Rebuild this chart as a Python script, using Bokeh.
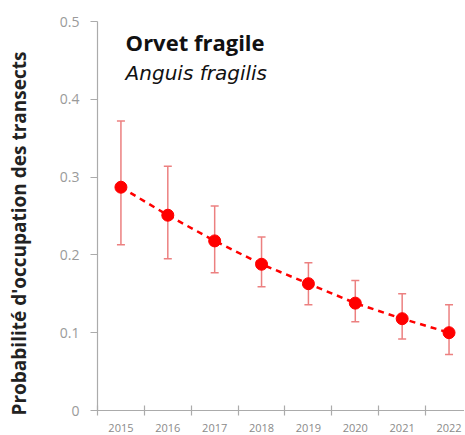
from bokeh.plotting import figure
from bokeh.models import ColumnDataSource, Whisker, TeeHead, FixedTicker, Label, Range1d, Title
from bokeh.embed import file_html
from bokeh.resources import INLINE

years = [2015, 2016, 2017, 2018, 2019, 2020, 2021, 2022]
occupancy = [0.287, 0.251, 0.218, 0.188, 0.163, 0.138, 0.118, 0.100]
upper = [0.372, 0.314, 0.263, 0.223, 0.190, 0.167, 0.150, 0.136]
lower = [0.213, 0.195, 0.177, 0.159, 0.136, 0.114, 0.092, 0.072]
y_ticks = [0, 0.1, 0.2, 0.3, 0.4, 0.5]
bounds = [y - 0.5 for y in years]

title_text = "Orvet fragile"
subtitle_text = "Anguis fragilis"
ylabel_text = "Probabilité d'occupation des transects"

src = ColumnDataSource(dict(x=years, y=occupancy, up=upper, lo=lower))

p = figure(width=464, height=434, output_backend="svg", toolbar_location=None,
           x_range=Range1d(2014.5, 2022.33), y_range=Range1d(0, 0.5),
           min_border_left=96, min_border_right=0, min_border_top=21, min_border_bottom=22)
p.outline_line_color = None
p.xgrid.grid_line_color = None
p.ygrid.grid_line_color = None
p.background_fill_color = "white"
p.border_fill_color = "white"

axis_col = "#ababab"
# x axis
xa = p.xaxis[0]
xa.ticker = FixedTicker(ticks=years, minor_ticks=bounds)
xa.axis_line_color = axis_col
xa.axis_line_width = 1.2
xa.major_tick_line_color = None
xa.major_tick_in = 0
xa.major_tick_out = 0
xa.minor_tick_line_color = axis_col
xa.minor_tick_line_width = 1.2
xa.minor_tick_in = 5
xa.minor_tick_out = 5
xa.major_label_text_font = "Open Sans"
xa.major_label_text_font_size = "11px"
xa.major_label_text_color = "#8a8a8a"
xa.major_label_standoff = 8

# y axis
ya = p.yaxis[0]
ya.ticker = FixedTicker(ticks=y_ticks)
ya.axis_line_color = axis_col
ya.axis_line_width = 1.2
ya.major_tick_line_color = axis_col
ya.major_tick_line_width = 1.2
ya.major_tick_in = 0
ya.major_tick_out = 7
ya.minor_tick_line_color = None
ya.major_label_text_font = "Open Sans"
ya.major_label_text_font_size = "14px"
ya.major_label_text_color = "#9a9a9a"
ya.major_label_standoff = 11
# blank spacer label, keeps the side title away from tick labels
ya.axis_label = " "
ya.axis_label_text_font_size = "8px"
ya.axis_label_standoff = 10

# y axis title, as a side title
yt = Title(text=ylabel_text, align="left", offset=-5, standoff=6, text_font="Open Sans",
           text_font_style="bold", text_font_size="19px", text_color="#222222")
p.add_layout(yt, "left")

# error bars
w = Whisker(source=src, base="x", upper="up", lower="lo",
            line_color="#ec8080", line_width=1.5,
            upper_head=TeeHead(size=8, line_color="#ec8080", line_width=1.5),
            lower_head=TeeHead(size=8, line_color="#ec8080", line_width=1.5))
p.add_layout(w)

p.line("x", "y", source=src, line_color="#ff0000", line_width=2.5, line_dash="6 5")
p.scatter("x", "y", source=src, size=12, fill_color="#ff0000", line_color="#ff0000")

p.add_layout(Label(x=2015.1, y=0.454, text=title_text, text_font="Open Sans",
                   text_font_style="bold", text_font_size="22px", text_color="#111111"))
p.add_layout(Label(x=2015.1, y=0.419, text=subtitle_text, text_font="DejaVu Sans",
                   text_font_style="italic", text_font_size="20px", text_color="#111111"))

open("out.html", "w").write(file_html(p, INLINE))
